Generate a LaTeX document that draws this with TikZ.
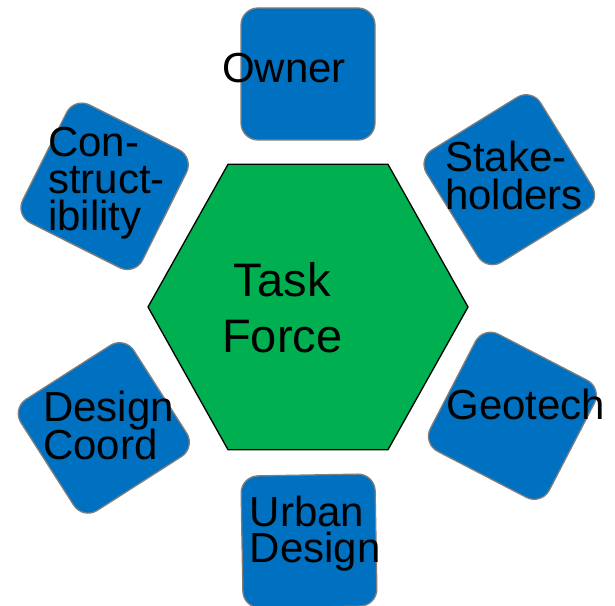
\documentclass[tikz,border=0pt]{standalone}
\usepackage{fontspec}
\setmainfont{Liberation Sans}
\definecolor{boxblue}{HTML}{0070C0}
\definecolor{boxedge}{HTML}{7F7F7F}
\definecolor{hexgreen}{HTML}{00B050}
% stacked lines with a fixed baseline distance; the stack's baseline is its first line
\newcommand\leftlines[2]{\vtop{\baselineskip=#1\lineskiplimit=-\maxdimen\halign{##\hfil\cr#2\crcr}}}
\newcommand\centerlines[2]{\vtop{\baselineskip=#1\lineskiplimit=-\maxdimen\halign{\hfil##\hfil\cr#2\crcr}}}

\begin{document}
\begin{tikzpicture}[x=1pt,y=1pt,
  member/.style={draw=boxedge, line width=1.3pt, fill=boxblue,
    rounded corners=17pt, minimum width=134pt, minimum height=132pt, inner sep=0pt},
  memtext/.style={font=\fontsize{42}{37}\selectfont, inner sep=0pt, anchor=base west},
  hexagon/.style={draw=black, line width=1.3pt, fill=hexgreen, line join=miter}
]
\useasboundingbox (0,0) rectangle (615,605);

% central task force hexagon
\coordinate (tfc) at (308,298);
\draw[hexagon] ([shift={(-160,0)}]tfc) -- ([shift={(-80,142.7)}]tfc)
  -- ([shift={(80,142.7)}]tfc) -- ([shift={(160,0)}]tfc)
  -- ([shift={(80,-142.7)}]tfc) -- ([shift={(-80,-142.7)}]tfc) -- cycle;
\node[font=\fontsize{47}{56}\selectfont, inner sep=0pt, anchor=base] (task)
  at (282.3,308) {\centerlines{56pt}{Task\cr Force}};

% surrounding members
\node[member] (owner) at (308,531) {};
\node[member, rotate=31.7] (stake) at (509.3,425.3) {};
\node[member, rotate=-27.4] (geo) at (512.4,189.2) {};
\node[member, rotate=1] (urban) at (309,64) {};
\node[member, rotate=32.6] (coord) at (103.8,177.1) {};
\node[member, rotate=-26.6] (constr) at (104.6,418.7) {};

% member names
\node[memtext] (owner-t) at (222,522) {Owner};
\node[memtext] (stake-t) at (445,433.3) {\leftlines{37.6pt}{Stake-\cr holders}};
\node[memtext] (geo-t) at (446.3,185) {Geotech};
\node[memtext] (urban-t) at (249.7,78.3) {\leftlines{36pt}{Urban\cr Design}};
\node[memtext] (coord-t) at (43,183.3) {\leftlines{37.6pt}{Design\cr Coord}};
\node[memtext] (constr-t) at (48,448.3) {\leftlines{37pt}{Con-\cr struct-\cr ibility}};
\end{tikzpicture}
\end{document}
